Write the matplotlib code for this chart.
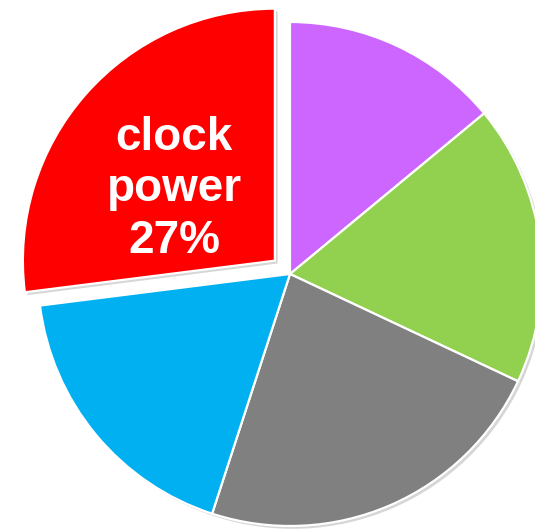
import numpy as np
import matplotlib.pyplot as plt

# share of power, clockwise from the top
shares = [14, 18, 23, 18, 27]
colors = ["#CC66FF", "#92D050", "#808080", "#00B0F0", "#FF0000"]
explode = [0, 0, 0, 0, 0.08]
label_text = "clock\npower\n27%"

fig = plt.figure(figsize=(5.35, 5.31), dpi=100)
ax = fig.add_axes([0, 0, 1, 1])

wedges, _ = ax.pie(shares, colors=colors, explode=explode, startangle=90,
                   counterclock=False, radius=1.0,
                   wedgeprops=dict(edgecolor="white", linewidth=1.6),
                   shadow=dict(ox=0.008, oy=-0.008, facecolor="#999999",
                               edgecolor="none", alpha=0.4))

# label inside the pulled-out slice
red = wedges[-1]
mid = np.deg2rad(0.5 * (red.theta1 + red.theta2) + 6)
cx, cy = red.center
ax.text(cx + 0.49 * np.cos(mid), cy + 0.49 * np.sin(mid), label_text,
        color="white", fontsize=33, fontweight="bold",
        family="Liberation Sans", ha="center", va="center",
        linespacing=1.22)

# pixel-matched limits: center at (290, 274), radius 252 px
ax.set_xlim(-290 / 252, (535 - 290) / 252)
ax.set_ylim(-(531 - 274) / 252, 274 / 252)
ax.set_aspect("auto")
ax.axis("off")

fig.savefig("out.png", dpi=100)
